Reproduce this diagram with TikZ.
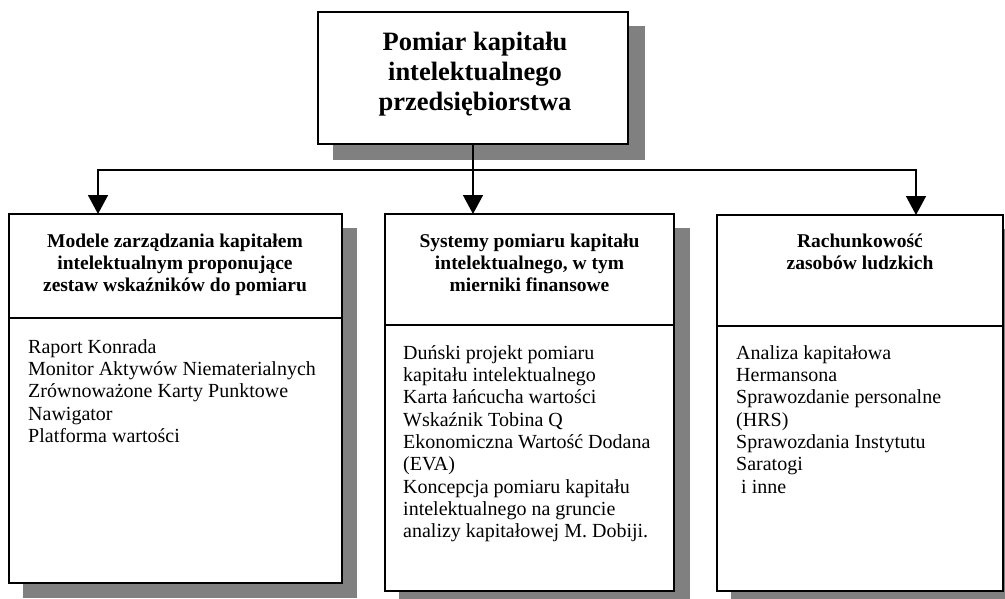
\documentclass[tikz,border=0pt]{standalone}
\usepackage{fontspec}
\setmainfont{Liberation Serif}
\usetikzlibrary{arrows.meta,calc}
\pgfdeclarelayer{bg}
\pgfsetlayers{bg,main}
\definecolor{shadowgray}{HTML}{808080}
\begin{document}
\begin{tikzpicture}[x=1pt,y=-1pt,
  frame/.style={draw=black, line width=1.5pt, fill=white, rectangle, anchor=north west, inner sep=0pt, outer sep=0pt},
  titletext/.style={font=\fontsize{26.5}{30}\selectfont\bfseries, align=center, anchor=north, inner sep=0pt},
  heading/.style={font=\fontsize{19.5}{22.3}\selectfont\bfseries, align=center, anchor=north, inner sep=0pt},
  bodytext/.style={font=\fontsize{20}{22.3}\selectfont, align=left, anchor=north west, inner sep=0pt},
  link/.style={line width=1.5pt},
  arrowlink/.style={link, -{Triangle[length=19pt,width=20pt]}}
]
\useasboundingbox (0,0) rectangle (1005,598);
\clip (0,0) rectangle (1005,598);

% top box
\node[frame, minimum width=310pt, minimum height=132pt] (top) at (318,12) {};
\node[titletext] (toptxt) at (475,29.5) {\strut Pomiar kapitału\\intelektualnego\\przedsiębiorstwa};

% left column
\node[frame, minimum width=333pt, minimum height=104pt] (h1) at (9,214) {};
\node[frame, minimum width=333pt, minimum height=265pt] (b1) at (9,318) {};
\node[heading] (h1txt) at (175,231.4) {\strut Modele zarządzania kapitałem\\intelektualnym proponujące\\zestaw wskaźników do pomiaru};
\node[bodytext] (b1txt) at (28,337.4) {\strut Raport Konrada\\Monitor Aktywów Niematerialnych\\Zrównoważone Karty Punktowe\\Nawigator\\Platforma wartości};

% middle column
\node[frame, minimum width=289pt, minimum height=111pt] (h2) at (385,214) {};
\node[frame, minimum width=289pt, minimum height=266pt] (b2) at (385,325) {};
\node[heading] (h2txt) at (529.5,231.4) {\strut Systemy pomiaru kapitału\\intelektualnego, w tym\\mierniki finansowe};
\node[bodytext] (b2txt) at (403,343.4) {\strut Duński projekt pomiaru\\kapitału intelektualnego\\Karta łańcucha wartości\\Wskaźnik Tobina Q\\Ekonomiczna Wartość Dodana\\(EVA)\\Koncepcja pomiaru kapitału\\intelektualnego na gruncie\\analizy kapitałowej M. Dobiji.};

% right column
\node[frame, minimum width=286pt, minimum height=111pt] (h3) at (717,215) {};
\node[frame, minimum width=286pt, minimum height=265pt] (b3) at (717,326) {};
\node[heading] (h3txt) at (860,231.4) {\strut Rachunkowość\\zasobów ludzkich};
\node[bodytext] (b3txt) at (736,343.4) {\strut Analiza kapitałowa\\Hermansona\\Sprawozdanie personalne\\(HRS)\\Sprawozdania Instytutu\\Saratogi\\\hspace*{0.25em}i inne};

% drop shadows
\begin{pgfonlayer}{bg}
  \fill[shadowgray] ($(top.north west)+(15,14)$) rectangle ($(top.south east)+(17,16)$);
  \fill[shadowgray] ($(h1.north west)+(14,14)$) rectangle ($(b1.south east)+(15,15)$);
  \fill[shadowgray] ($(h2.north west)+(14,14)$) rectangle ($(b2.south east)+(16,15)$);
  \fill[shadowgray] ($(h3.north west)+(14,14)$) rectangle ($(b3.south east)+(16,15)$);
\end{pgfonlayer}

% connectors
\coordinate (busL) at (98,170);
\coordinate (busR) at (916,170);
\draw[link] (top.south) -- (top.south |- busL);
\draw[arrowlink] (busR) -- (busL) -- (busL |- h1.north);
\draw[arrowlink] (busL) -- (busR) -- (busR |- h3.north);
\draw[arrowlink] (top.south) -- (top.south |- h2.north);
\end{tikzpicture}
\end{document}
